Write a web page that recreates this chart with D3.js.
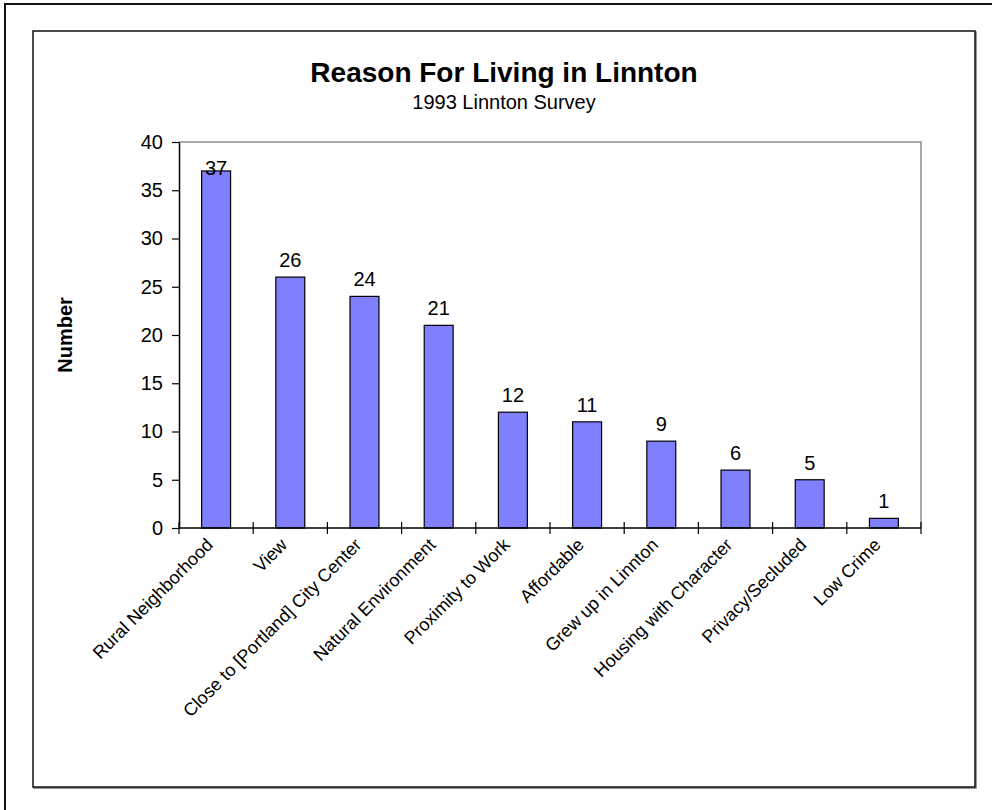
<!DOCTYPE html>
<html>
<head>
<meta charset="utf-8">
<script src="https://cdn.jsdelivr.net/npm/d3@7"></script>
<style>
  html, body { margin: 0; padding: 0; background: #fff; }
  svg { display: block; font-family: Arial, "Liberation Sans", sans-serif; }
</style>
</head>
<body>
<svg id="chart" width="992" height="810"></svg>
<script>
// Survey responses: reasons for living in Linnton
const categories = [
  "Rural Neighborhood", "View", "Close to [Portland] City Center",
  "Natural Environment", "Proximity to Work", "Affordable",
  "Grew up in Linnton", "Housing with Character", "Privacy/Secluded", "Low Crime"
];
const counts = [37, 26, 24, 21, 12, 11, 9, 6, 5, 1];
const yTickValues = [0, 5, 10, 15, 20, 25, 30, 35, 40];

const titleText = "Reason For Living in Linnton";
const subtitleText = "1993 Linnton Survey";
const yAxisTitle = "Number";

const svg = d3.select("#chart");

// Frames
svg.append("rect")
  .attr("x", 5).attr("y", 4).attr("width", 1000).attr("height", 820)
  .attr("fill", "none").attr("stroke", "#111").attr("stroke-width", 2);
svg.append("rect")
  .attr("x", 34).attr("y", 32).attr("width", 942).attr("height", 756)
  .attr("fill", "none").attr("stroke", "#777").attr("stroke-width", 1.5);
svg.append("rect")
  .attr("x", 33).attr("y", 31).attr("width", 942).attr("height", 756)
  .attr("fill", "#fff").attr("stroke", "#111").attr("stroke-width", 1.5);

const plot = { left: 179, right: 921, top: 142, bottom: 528 };

const x = d3.scaleBand()
  .domain(categories)
  .range([plot.left, plot.right])
  .paddingInner(0.61)
  .paddingOuter(0.305);

const y = d3.scaleLinear()
  .domain([0, 40])
  .range([plot.bottom, plot.top]);

// Plot area border (top and right)
svg.append("path")
  .attr("d", `M${plot.left},${plot.top}H${plot.right}V${plot.bottom}`)
  .attr("fill", "none").attr("stroke", "#8c8c8c").attr("stroke-width", 1.5);

// Title
svg.append("text")
  .attr("x", 504).attr("y", 82)
  .attr("text-anchor", "middle")
  .attr("font-size", 28).attr("font-weight", "bold")
  .text(titleText);
svg.append("text")
  .attr("x", 504).attr("y", 109)
  .attr("text-anchor", "middle")
  .attr("font-size", 20)
  .text(subtitleText);

// Y axis
const yAxis = d3.axisLeft(y)
  .tickValues(yTickValues)
  .tickSizeInner(7)
  .tickSizeOuter(0)
  .tickPadding(9);
const gy = svg.append("g")
  .attr("transform", `translate(${plot.left},0)`)
  .call(yAxis);
gy.select(".domain").attr("stroke", "#000").attr("stroke-width", 1.5);
gy.selectAll(".tick line").attr("stroke", "#000").attr("stroke-width", 1.2);
gy.selectAll(".tick text")
  .attr("font-size", 20)
  .attr("font-family", "Arial, 'Liberation Sans', sans-serif")
  .attr("fill", "#000");

svg.append("text")
  .attr("transform", `translate(72,335) rotate(-90)`)
  .attr("text-anchor", "middle")
  .attr("font-size", 20).attr("font-weight", "bold")
  .text(yAxisTitle);

// Bars
svg.append("g").selectAll("rect")
  .data(counts)
  .join("rect")
  .attr("x", (d, i) => x(categories[i]))
  .attr("y", d => y(d))
  .attr("width", x.bandwidth())
  .attr("height", d => y(0) - y(d))
  .attr("fill", "#8080ff")
  .attr("stroke", "#000")
  .attr("stroke-width", 1.2);

// Value labels (kept inside the plot area near the top)
svg.append("g").selectAll("text")
  .data(counts)
  .join("text")
  .attr("x", (d, i) => x(categories[i]) + x.bandwidth() / 2)
  .attr("y", d => Math.max(y(d) - 10, plot.top + 33))
  .attr("text-anchor", "middle")
  .attr("font-size", 20)
  .text(d => d);

// X axis line and category tick marks
svg.append("line")
  .attr("x1", plot.left).attr("x2", plot.right)
  .attr("y1", y(0)).attr("y2", y(0))
  .attr("stroke", "#000").attr("stroke-width", 1.5);
const gap = (x.step() - x.bandwidth()) / 2;
const tickXs = categories.map(c => x(c) - gap).concat([plot.right]);
svg.append("g").selectAll("line")
  .data(tickXs)
  .join("line")
  .attr("x1", d => d).attr("x2", d => d)
  .attr("y1", y(0) - 6).attr("y2", y(0) + 6)
  .attr("stroke", "#000").attr("stroke-width", 1.2);

// Category labels, rotated
svg.append("g").selectAll("text")
  .data(categories)
  .join("text")
  .attr("transform", c => `translate(${x(c) + x.bandwidth() / 2 - 2},${y(0) + 18}) rotate(-45)`)
  .attr("text-anchor", "end")
  .attr("font-size", 18)
  .text(c => c);
</script>
</body>
</html>
